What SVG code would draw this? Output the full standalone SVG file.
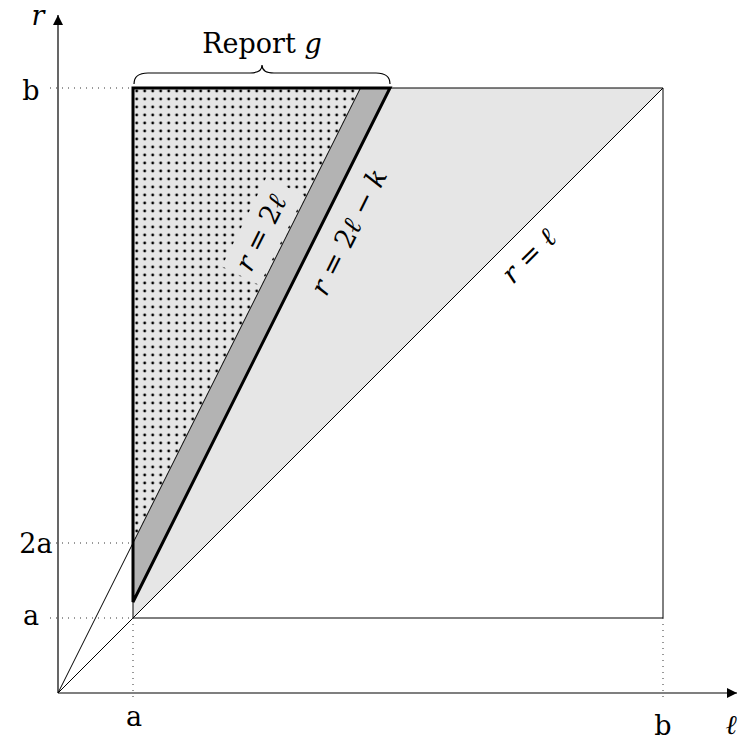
<svg xmlns="http://www.w3.org/2000/svg" width="743" height="741" viewBox="0 0 743 741">
<style>
.it{font-style:italic}
.thin{fill:none;stroke:#000;stroke-width:1}
.dot{fill:none;stroke:#333;stroke-width:1;stroke-dasharray:1 5}
</style>
<defs>
<pattern id="dots" patternUnits="userSpaceOnUse" x="132.7" y="87" width="8" height="8">
<circle cx="4" cy="4" r="1.4" fill="#000"/>
</pattern>
<marker id="arr" viewBox="0 0 10 10" refX="10" refY="5" markerWidth="10" markerHeight="10" markerUnits="userSpaceOnUse" orient="auto">
<path d="M0,0 L10,5 L0,10 z" fill="#000"/>
</marker>
</defs>
<g id="regions">
<polygon points="133,618 133,88 663,88" fill="#e6e6e6"/>
<polygon points="133,543 360.5,88 390,88 133,602" fill="#b3b3b3"/>
<polygon points="133,88 360.5,88 133,543" fill="#e6e6e6"/>
<polygon points="133,88 360.5,88 133,543" fill="url(#dots)"/>
<rect x="-50" y="-21" width="100" height="42" fill="#e6e6e6" transform="translate(263,231) rotate(-63.43)"/>
</g>
<g id="connectors">
<line x1="58" y1="693" x2="737" y2="693" stroke="#000" stroke-width="1.2" marker-end="url(#arr)"/>
<line x1="58" y1="693" x2="58" y2="15" stroke="#000" stroke-width="1.2" marker-end="url(#arr)"/>
<polyline class="thin" points="133,602 133,618 663,618 663,88 390,88"/>
<line class="thin" x1="58" y1="693" x2="663" y2="88"/>
<line class="thin" x1="58" y1="693" x2="360.5" y2="88"/>
<polygon points="133,88 390,88 133,602" fill="none" stroke="#000" stroke-width="3" stroke-linejoin="miter"/>
<line class="dot" x1="50" y1="88" x2="133" y2="88"/>
<line class="dot" x1="50" y1="543" x2="133" y2="543"/>
<line class="dot" x1="50" y1="618" x2="133" y2="618"/>
<line class="dot" x1="133" y1="618" x2="133" y2="702"/>
<line class="dot" x1="663" y1="618" x2="663" y2="702"/>
<path d="M134,84 Q134,73 148,73 L250,73 Q262,73 262,65 Q262,73 274,73 L376,73 Q390,73 390,84" fill="none" stroke="#000" stroke-width="1.2"/>
</g>
<g id="labels" font-family="'DejaVu Serif', 'Liberation Serif', serif" font-size="27" fill="#000">
<text x="262" y="53" text-anchor="middle">Report <tspan class="it">g</tspan></text>
<text x="38" y="25" text-anchor="middle" class="it">r</text>
<text x="731" y="734" text-anchor="middle" class="it">ℓ</text>
<text x="31" y="100" text-anchor="middle">b</text>
<text x="36" y="553" text-anchor="middle">2a</text>
<text x="31" y="625" text-anchor="middle">a</text>
<text x="134" y="726" text-anchor="middle">a</text>
<text x="663" y="735" text-anchor="middle">b</text>
<g transform="translate(261,233) rotate(-63.43)"><text x="0" y="9" text-anchor="middle"><tspan class="it">r</tspan> = 2<tspan class="it">ℓ</tspan></text></g>
<g transform="translate(349,232) rotate(-63.43)"><text x="0" y="9" text-anchor="middle"><tspan class="it">r</tspan> = 2<tspan class="it">ℓ</tspan> − <tspan class="it">k</tspan></text></g>
<g transform="translate(529,256) rotate(-45)"><text x="0" y="9" text-anchor="middle"><tspan class="it">r</tspan> = <tspan class="it">ℓ</tspan></text></g>
</g>
</svg>
